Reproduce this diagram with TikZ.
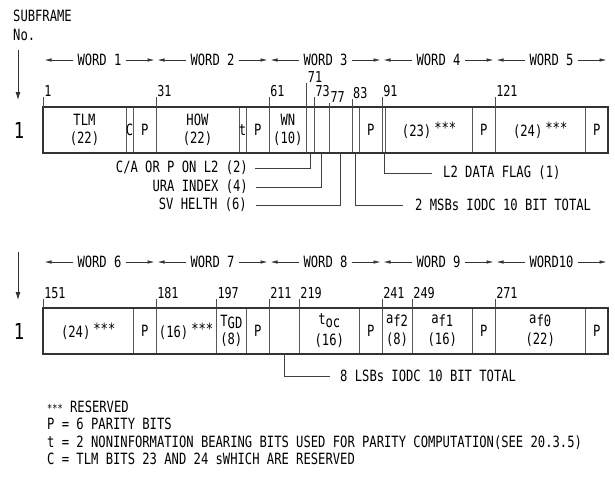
\documentclass[tikz,border=0pt]{standalone}
\usepackage{fontspec}
\setmainfont{DejaVu Sans Mono}[FakeStretch=0.785]
\usetikzlibrary{positioning,calc,arrows.meta}

\def\xzero{43}
\def\bitu{3.7667}

\tikzset{
  cellbox/.style={draw=black!65, line width=0.7pt, inner sep=0pt, outer sep=0pt,
    minimum height=46pt, align=center, font=\fontsize{15.5}{18}\selectfont},
  frameline/.style={draw=black!80, line width=1.5pt},
  tickline/.style={draw=black!70, line width=0.6pt},
  ticklabel/.style={anchor=south west, inner xsep=1pt, inner ysep=0pt, font=\fontsize{15}{15}\selectfont},
  wordlabel/.style={inner xsep=4pt, font=\fontsize{15.5}{15.5}\selectfont},
  wordarrow/.style={draw=black!80, line width=0.7pt, -{Latex[length=7pt,width=3.5pt]}, shorten >=1.5pt},
  downarrow/.style={draw=black!80, line width=0.8pt, -{Latex[length=8pt,width=5pt]}},
  callout/.style={inner sep=0pt, font=\fontsize{15.5}{15.5}\selectfont},
  leader/.style={draw=black!75, line width=0.7pt},
  plain/.style={inner sep=0pt, font=\fontsize{15.5}{15.5}\selectfont},
  subno/.style={inner sep=0pt, font=\fontsize{22}{22}\selectfont}
}

% one field of a word: name, first bit (offset), width in bits, centre y, text
\newcommand{\bitcell}[5]{%
  \node[cellbox, minimum width={#3*\bitu*1pt}] (#1) at ({\xzero+(#2+#3/2)*\bitu}, #4) {#5};}
% bit number above a row: offset, row top, tick length, number
\newcommand{\bittick}[4]{%
  \draw[tickline] ({\xzero+#1*\bitu}, #2) -- ++(0,-#3) node[ticklabel] (bit#4) {#4};}
\newcommand{\resmark}{\hspace{3pt}\raisebox{3pt}{***}}

\begin{document}
\begin{tikzpicture}[x=1pt, y=-1pt]
\useasboundingbox (0,0) rectangle (615,485);

%subframe heading
\node[plain, anchor=base west] (subhdr) at (13,21) {SUBFRAME};
\node[plain, anchor=base west] (subnum) at (13,40) {No.};
\coordinate (sfa) at (18,50);
\coordinate (sfb) at (18,100);
\draw[downarrow] (sfa) -- (sfb);
\coordinate (sfc) at (18,252);
\coordinate (sfd) at (18,300);
\draw[downarrow] (sfc) -- (sfd);
\node[subno] (sfone) at (19,130) {1};
\node[subno] (sftwo) at (19,331) {1};

%word headings, first row
\foreach \i in {1,...,5}{
  \node[wordlabel] (word\i) at ({\xzero+(\i-0.5)*30*\bitu}, 60) {WORD \i};
  \coordinate (wl\i) at ({\xzero+(\i-1)*30*\bitu}, 60);
  \coordinate (wr\i) at ({\xzero+\i*30*\bitu}, 60);
  \draw[wordarrow] (word\i) -- (wl\i);
  \draw[wordarrow] (word\i) -- (wr\i);
}

%word headings, second row
\foreach \i/\txt in {6/WORD 6,7/WORD 7,8/WORD 8,9/WORD 9,10/WORD10}{
  \pgfmathtruncatemacro\j{\i-5}
  \node[wordlabel] (word\i) at ({\xzero+(\j-0.5)*30*\bitu}, 262) {\txt};
  \coordinate (wl\i) at ({\xzero+(\j-1)*30*\bitu}, 262);
  \coordinate (wr\i) at ({\xzero+\j*30*\bitu}, 262);
  \draw[wordarrow] (word\i) -- (wl\i);
  \draw[wordarrow] (word\i) -- (wr\i);
}

%first row of fields
\bitcell{tlm}{0}{22}{130}{TLM\\(22)}
\bitcell{cbits}{22}{2}{130}{\makebox[0pt]{C}}
\bitcell{par1}{24}{6}{130}{P}
\bitcell{how}{30}{22}{130}{HOW\\(22)}
\bitcell{tbits}{52}{2}{130}{\makebox[0pt]{t}}
\bitcell{par2}{54}{6}{130}{P}
\bitcell{wn}{60}{10}{130}{WN\\(10)}
\bitcell{capl}{70}{2}{130}{}
\bitcell{ura}{72}{4}{130}{}
\bitcell{svh}{76}{6}{130}{}
\bitcell{iodcm}{82}{2}{130}{}
\bitcell{par3}{84}{6}{130}{P}
\bitcell{ltwo}{90}{1}{130}{}
\bitcell{resa}{91}{23}{130}{(23)\resmark}
\bitcell{par4}{114}{6}{130}{P}
\bitcell{resb}{120}{24}{130}{(24)\resmark}
\bitcell{par5}{144}{6}{130}{P}
\draw[frameline] (tlm.north west) rectangle (par5.south east);

\bittick{0}{107}{10}{1}
\bittick{30}{107}{10}{31}
\bittick{60}{107}{10}{61}
\bittick{70}{107}{24}{71}
\bittick{72}{107}{10}{73}
\bittick{76}{107}{4}{77}
\bittick{82}{107}{8}{83}
\bittick{90}{107}{10}{91}
\bittick{120}{107}{10}{121}

%second row of fields
\bitcell{resc}{0}{24}{331}{(24)\resmark}
\bitcell{par6}{24}{6}{331}{P}
\bitcell{resd}{30}{16}{331}{(16)\resmark}
\bitcell{tgd}{46}{8}{331}{T\raisebox{-2pt}{GD}\\(8)}
\bitcell{par7}{54}{6}{331}{P}
\bitcell{iodcl}{60}{8}{331}{}
\bitcell{toc}{68}{16}{331}{\raisebox{3pt}{t}oc\\(16)}
\bitcell{par8}{84}{6}{331}{P}
\bitcell{aftwo}{90}{8}{331}{\raisebox{3pt}{a}f2\\(8)}
\bitcell{afone}{98}{16}{331}{\raisebox{3pt}{a}f1\\(16)}
\bitcell{par9}{114}{6}{331}{P}
\bitcell{afzero}{120}{24}{331}{\raisebox{3pt}{a}f0\\(22)}
\bitcell{par10}{144}{6}{331}{P}
\draw[frameline] (resc.north west) rectangle (par10.south east);

\bittick{0}{308}{9}{151}
\bittick{30}{308}{9}{181}
\bittick{46}{308}{9}{197}
\bittick{60}{308}{9}{211}
\bittick{68}{308}{9}{219}
\bittick{90}{308}{9}{241}
\bittick{98}{308}{9}{249}
\bittick{120}{308}{9}{271}

%callouts
\node[callout, anchor=east] (calab) at (248,168) {C/A OR P ON L2 (2)};
\node[callout, anchor=east] (uralab) at (248,187) {URA INDEX (4)};
\node[callout, anchor=east] (svhlab) at (247,205) {SV HELTH (6)};
\node[callout, anchor=west] (msblab) at (415,205) {2 MSBs IODC 10 BIT TOTAL};
\node[callout, anchor=west] (l2lab) at (443,173) {L2 DATA FLAG (1)};
\node[callout, anchor=west] (lsblab) at (340,376) {8 LSBs IODC 10 BIT TOTAL};

\draw[leader, shorten >=7pt] (capl.south) |- (calab.east);
\draw[leader, shorten >=8pt] (ura.south) |- (uralab.east);
\draw[leader, shorten >=9pt] (svh.south) |- (svhlab.east);
\draw[leader, shorten >=12pt] (iodcm.south) |- (msblab.west);
\draw[leader, shorten >=11pt] (ltwo.south) |- (l2lab.west);
\draw[leader, shorten >=10pt] (iodcl.south) |- (lsblab.west);

%legend
\node[plain, anchor=base west] (leg1) at (47,412) {{\fontsize{11}{11}\selectfont***}\ RESERVED};
\node[plain, anchor=base west] (leg2) at (47,429) {P = 6 PARITY BITS};
\node[plain, anchor=base west] (leg3) at (47,447) {t = 2 NONINFORMATION BEARING BITS USED FOR PARITY COMPUTATION(SEE 20.3.5)};
\node[plain, anchor=base west] (leg4) at (47,464) {C = TLM BITS 23 AND 24 sWHICH ARE RESERVED};

\end{tikzpicture}
\end{document}
